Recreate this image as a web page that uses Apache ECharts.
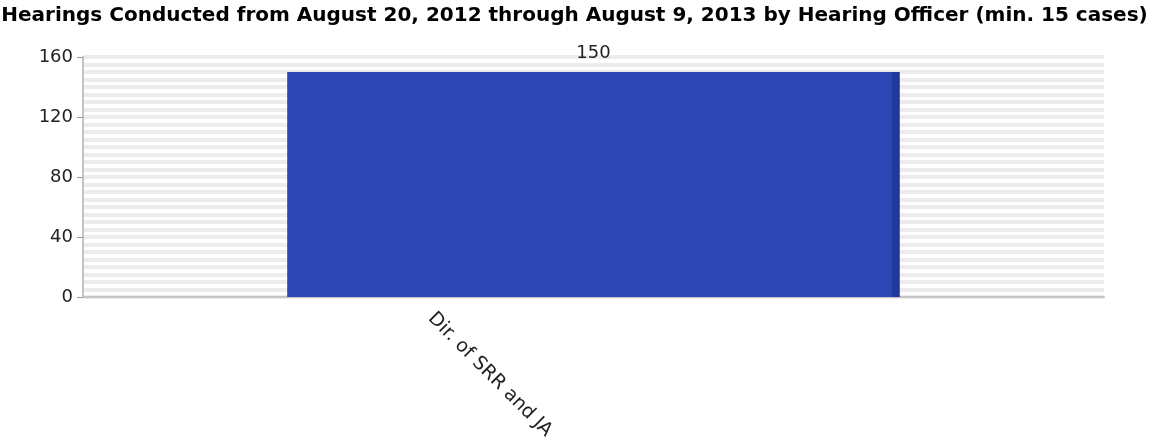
<!DOCTYPE html>
<html>
<head>
<meta charset="utf-8">
<script src="https://cdn.jsdelivr.net/npm/echarts@6/dist/echarts.min.js"></script>
<style>
html,body{margin:0;padding:0;background:#fff;}
#chart{width:1149px;height:447px;}
</style>
</head>
<body>
<div id="chart"></div>
<script>
const titleText = 'Hearings Conducted from August 20, 2012 through August 9, 2013 by Hearing Officer (min. 15 cases)';
const categories = ['Dir. of SRR and JA'];
const hearings = [150];
const yTicks = [0, 40, 80, 120, 160];

const chart = echarts.init(document.getElementById('chart'));
const stripe = { show: true, lineStyle: { color: '#ececec', width: 4 } };
chart.setOption({
  animation: false,
  backgroundColor: '#ffffff',
  title: {
    text: titleText,
    left: 'center',
    top: 1,
    textStyle: { fontFamily: 'DejaVu Sans', fontWeight: 'bold', fontSize: 20, color: '#000' }
  },
  grid: { left: 83, right: 45, top: 57, bottom: 150 },
  xAxis: {
    type: 'category',
    data: categories,
    axisLine: { show: true, lineStyle: { color: '#c4c4c4', width: 2 } },
    axisTick: { show: false },
    axisLabel: {
      rotate: -45,
      interval: 0,
      margin: 8,
      align: 'center',
      verticalAlign: 'top',
      padding: [113, 48, 0, 0],
      fontFamily: 'DejaVu Sans',
      fontSize: 19,
      color: '#222'
    }
  },
  yAxis: {
    type: 'value',
    min: yTicks[0],
    max: yTicks[yTicks.length - 1],
    interval: 40,
    axisLine: { show: true, lineStyle: { color: '#c4c4c4', width: 2 } },
    axisTick: { show: true, length: 6, lineStyle: { color: '#999', width: 1 } },
    axisLabel: { fontFamily: 'DejaVu Sans', fontSize: 18, color: '#222', margin: 10 },
    splitLine: stripe,
    minorTick: { show: false, splitNumber: 8 },
    minorSplitLine: stripe
  },
  series: [{
    type: 'bar',
    data: hearings,
    barWidth: '60%',
    itemStyle: {
      color: new echarts.graphic.LinearGradient(0, 0, 1, 0, [
        { offset: 0, color: '#2c46b3' },
        { offset: 0.987, color: '#2c46b3' },
        { offset: 0.987, color: '#22389a' },
        { offset: 1, color: '#22389a' }
      ])
    },
    label: {
      show: true,
      position: 'top',
      distance: 10,
      fontFamily: 'DejaVu Sans',
      fontSize: 18,
      color: '#222'
    }
  }]
});
</script>
</body>
</html>
